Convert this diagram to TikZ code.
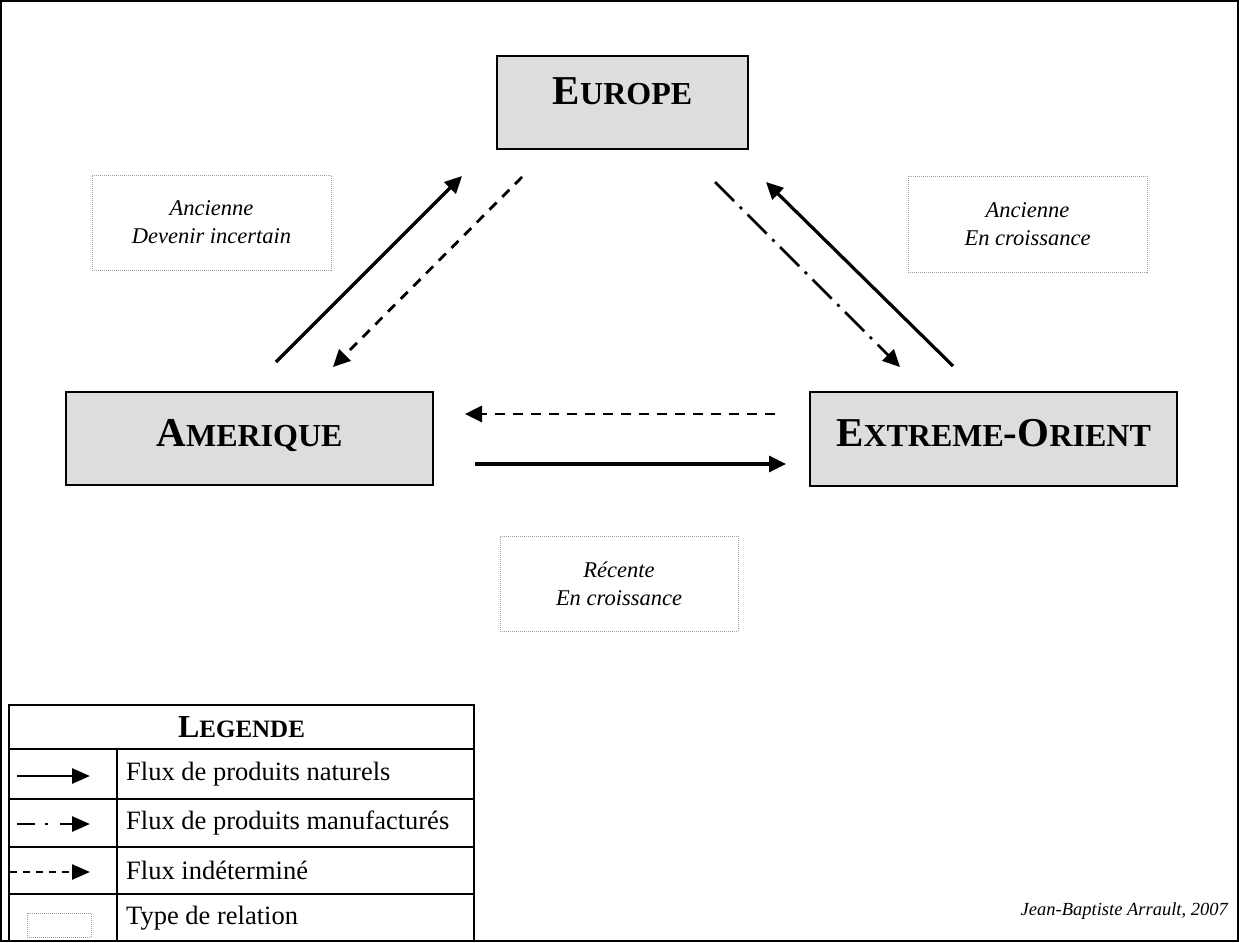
\documentclass[tikz,border=0pt]{standalone}
\usepackage{fontspec}
\setmainfont{Liberation Serif}
\usetikzlibrary{arrows.meta}
\newcommand\fakesc[4]{\bfseries\fontsize{#1}{#1}\selectfont #3\fontsize{#2}{#2}\selectfont #4}
\begin{document}
\begin{tikzpicture}[x=1pt,y=-1pt,
  region/.style={draw=black, line width=2.8pt, fill=boxgray, inner sep=0pt},
  reltype/.style={draw=gray!75, line width=1pt, dash pattern=on 1pt off 1pt, inner sep=0pt, align=center,
     font=\itshape\fontsize{22.5}{28}\selectfont},
  flow/.style={line width=3.2pt, -{Triangle[length=17pt,width=16pt]}},
  dashflow/.style={flow, line width=2.8pt, dash pattern=on 10pt off 8pt},
  dotflow/.style={flow, line width=2.8pt, dash pattern=on 27pt off 8pt on 3pt off 8pt},
  legtxt/.style={anchor=west, inner sep=0pt, font=\fontsize{26.5}{26.5}\selectfont},
  legflow/.style={line width=2.9pt, -{Triangle[length=18pt,width=15pt]}},
  tbl/.style={line width=2.2pt}
]
\definecolor{boxgray}{HTML}{DDDDDD}
\useasboundingbox (0,0) rectangle (1239,942);
\draw[line width=2.4pt] (1.2,1.2) rectangle (1237.8,940.8);

% main boxes
\node[region, minimum width=251pt, minimum height=93pt] (europe) at (622.5,102.5) {};
\node[anchor=base, inner sep=0pt] (europeT) at (622.5,104) {\fakesc{41}{32}{E}{UROPE}};
\node[region, minimum width=367pt, minimum height=93pt] (amerique) at (249.5,438.5) {};
\node[anchor=base, inner sep=0pt] (ameriqueT) at (249.5,446) {\fakesc{41}{32}{A}{MERIQUE}};
\node[region, minimum width=367pt, minimum height=94pt] (orient) at (993.5,439) {};
\node[anchor=base, inner sep=0pt] (orientT) at (993.5,446) {\fakesc{41}{32}{E}{XTREME}\fakesc{41}{32}{-O}{RIENT}};

% relation boxes
\node[reltype, minimum width=239pt, minimum height=95pt] (rel1) at (211.5,222.5) {Ancienne\\Devenir incertain};
\node[reltype, minimum width=239pt, minimum height=96pt] (rel2) at (1027.5,224) {Ancienne\\En croissance};
\node[reltype, minimum width=238pt, minimum height=95pt] (rel3) at (619,583.5) {Récente\\En croissance};

% arrow end points
\coordinate (a1s) at (276,362); \coordinate (a1e) at (462,176);
\coordinate (a2s) at (522,177); \coordinate (a2e) at (333,367);
\coordinate (a3s) at (715,182); \coordinate (a3e) at (900,367);
\coordinate (a4s) at (953,366); \coordinate (a4e) at (766,182);
\coordinate (a5s) at (775,414); \coordinate (a5e) at (465,414);
\coordinate (a6s) at (475,464); \coordinate (a6e) at (786,464);

\draw[flow] (a1s) -- (a1e);
\draw[dashflow] (a2s) -- (a2e);
\draw[dotflow] (a3s) -- (a3e);
\draw[flow] (a4s) -- (a4e);
\draw[dashflow] (a5s) -- (a5e);
\draw[flow] (a6s) -- (a6e);

% legend
\draw[tbl] (9,942) -- (9,705) -- (474,705) -- (474,942);
\draw[tbl] (9,749) -- (474,749);
\draw[tbl] (9,799) -- (474,799);
\draw[tbl] (9,847) -- (474,847);
\draw[tbl] (9,894) -- (474,894);
\draw[tbl] (117,749) -- (117,942);
\node[inner sep=0pt] (legT) at (241.5,727) {\fakesc{32}{25}{L}{EGENDE}};

\coordinate (l1s) at (17,776); \coordinate (l1e) at (90,776);
\coordinate (l2s) at (17,824); \coordinate (l2e) at (90,824);
\coordinate (l3s) at (10,872); \coordinate (l3e) at (90,872);
\draw[legflow] (l1s) -- (l1e);
\draw[legflow, dash pattern=on 18pt off 10pt on 3pt off 12pt] (l2s) -- (l2e);
\draw[legflow, line width=2.5pt, dash pattern=on 7pt off 6pt] (l3s) -- (l3e);
\node[draw=gray!75, line width=1pt, dash pattern=on 1pt off 1pt, minimum width=64pt, minimum height=24pt, inner sep=0pt] (legbox) at (59,925) {};

\node[legtxt] (t1) at (126,774) {Flux de produits naturels};
\node[legtxt] (t2) at (126,823) {Flux de produits manufacturés};
\node[legtxt] (t3) at (126,870) {Flux indéterminé};
\node[legtxt] (t4) at (126,918) {Type de relation};

\node[anchor=base east, inner sep=0pt, font=\itshape\fontsize{18.5}{20}\selectfont] (author) at (1228,915) {Jean-Baptiste Arrault, 2007};
\end{tikzpicture}
\end{document}
